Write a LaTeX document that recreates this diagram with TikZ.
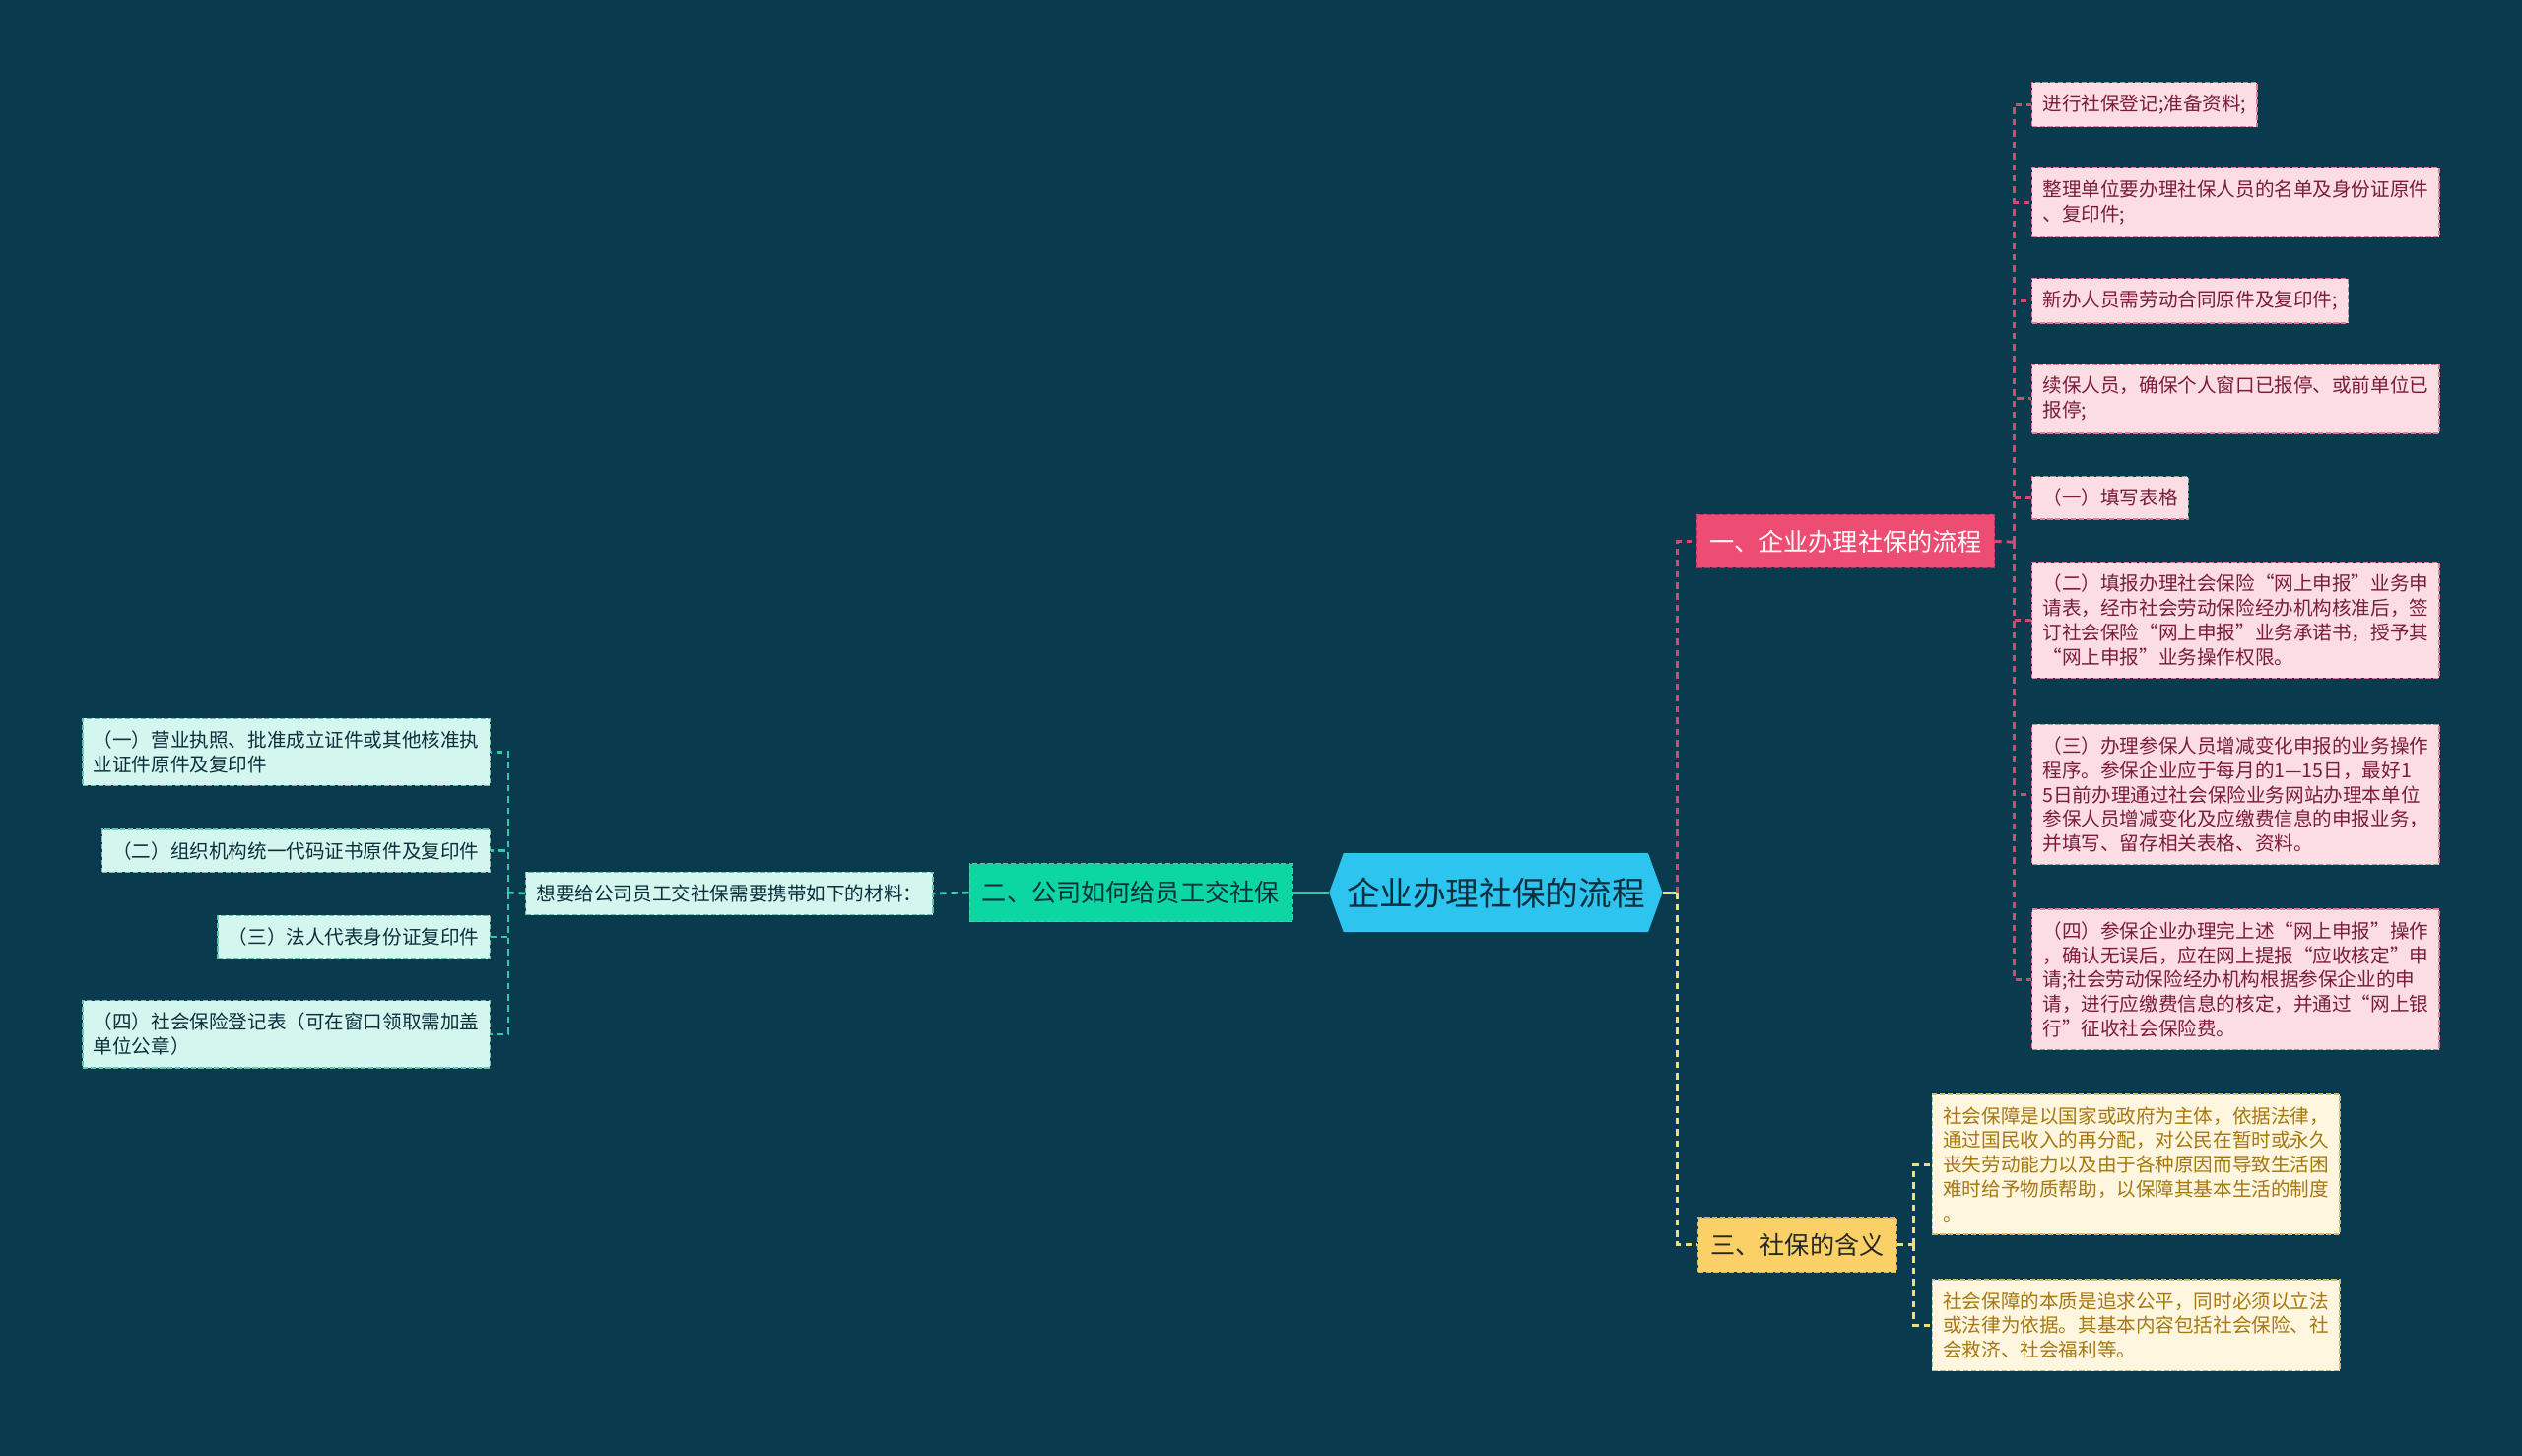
\documentclass[tikz,border=0pt]{standalone}
\usepackage{fontspec}
\newfontfamily\cjk{Noto Sans CJK SC}
\usetikzlibrary{positioning,calc,shapes.symbols}
\definecolor{bgcol}{HTML}{0A3A4D}
\definecolor{rootbg}{HTML}{2EC4F0}
\definecolor{darktx}{HTML}{0B2F3D}
\definecolor{pinkbr}{HTML}{EE4D73}
\definecolor{pinkbd}{HTML}{E07C98}
\definecolor{pinkbg}{HTML}{FCDDE4}
\definecolor{pinktx}{HTML}{7B1C3B}
\definecolor{pinkln}{HTML}{D24A74}
\definecolor{greenbr}{HTML}{0CD6A2}
\definecolor{greenbg}{HTML}{D3F6EE}
\definecolor{greenbd}{HTML}{5FC7A8}
\definecolor{greenln}{HTML}{33C9A8}
\definecolor{yelbr}{HTML}{FAD067}
\definecolor{yelbg}{HTML}{FFF6DF}
\definecolor{yelbd}{HTML}{D8B76A}
\definecolor{yeltx}{HTML}{A6780F}
\definecolor{yelln}{HTML}{F3DC7A}

\begin{document}
\begin{tikzpicture}[x=0.5pt,y=-0.5pt,font=\cjk]
\tikzstyle{leaf}=[draw,dash pattern=on 1.6pt off 0.8pt,line width=0.4pt,inner xsep=3.3pt,inner ysep=3.8pt,align=left,font=\cjk\fontsize{6}{7.6}\selectfont]
  \tikzstyle{pleaf}=[leaf,fill=pinkbg,draw=pinkbd,text=pinktx,anchor=west]
  \tikzstyle{gleaf}=[leaf,fill=greenbg,draw=greenbd,text=darktx,anchor=east]
  \tikzstyle{yleaf}=[leaf,fill=yelbg,draw=yelbd,text=yeltx,anchor=west]
  \tikzstyle{branch}=[draw,dash pattern=on 1.6pt off 0.8pt,line width=0.4pt,inner xsep=3.9pt,inner ysep=0pt,font=\cjk\fontsize{7.7}{9}\selectfont]
  \tikzstyle{pline}=[pinkln,line width=0.9pt,dash pattern=on 2pt off 1.5pt]
  \tikzstyle{gline}=[greenln,line width=0.8pt,dash pattern=on 2pt off 1.5pt]
  \tikzstyle{yline}=[yelln,line width=0.9pt,dash pattern=on 2pt off 1.5pt]
%
\fill[bgcol] (0,0) rectangle (1568,905);
\useasboundingbox (0,0) rectangle (1568,905);
%
\node[signal,signal to=west and east,signal pointer angle=140,fill=rootbg,text=darktx,minimum height=24.5pt,inner xsep=1pt,font=\cjk\fontsize{10.3}{12}\selectfont] (root) at (930,555) {企业办理社保的流程};
  \node[branch,fill=pinkbr,draw=pinkln!80!black,text=white,minimum height=16.5pt] (b1) at (1147.5,336.5) {一、企业办理社保的流程};
  \node[branch,fill=greenbr,draw=greenbd,text=darktx,minimum height=18pt] (b2) at (703,555) {二、公司如何给员工交社保};
  \node[branch,fill=yelbr,draw=yelbd,text=black!85,minimum height=17pt] (b3) at (1117.5,774) {三、社保的含义};
%
\node[pleaf] (p1) at (1263,65) {进行社保登记;准备资料;};
  \node[pleaf] (p2) at (1263,126) {整理单位要办理社保人员的名单及身份证原件\\、复印件;};
  \node[pleaf] (p3) at (1263,187) {新办人员需劳动合同原件及复印件;};
  \node[pleaf] (p4) at (1263,248) {续保人员，确保个人窗口已报停、或前单位已\\报停;};
  \node[pleaf] (p5) at (1263,309.5) {（一）填写表格};
  \node[pleaf] (p6) at (1263,385.5) {（二）填报办理社会保险“网上申报”业务申\\请表，经市社会劳动保险经办机构核准后，签\\订社会保险“网上申报”业务承诺书，授予其\\“网上申报”业务操作权限。};
  \node[pleaf] (p7) at (1263,494) {（三）办理参保人员增减变化申报的业务操作\\程序。参保企业应于每月的1—15日，最好1\\5日前办理通过社会保险业务网站办理本单位\\参保人员增减变化及应缴费信息的申报业务，\\并填写、留存相关表格、资料。};
  \node[pleaf] (p8) at (1263,609) {（四）参保企业办理完上述“网上申报”操作\\，确认无误后，应在网上提报“应收核定”申\\请;社会劳动保险经办机构根据参保企业的申\\请，进行应缴费信息的核定，并通过“网上银\\行”征收社会保险费。};
%
\node[yleaf] (y1) at (1201,724) {社会保障是以国家或政府为主体，依据法律，\\通过国民收入的再分配，对公民在暂时或永久\\丧失劳动能力以及由于各种原因而导致生活困\\难时给予物质帮助，以保障其基本生活的制度\\。};
  \node[yleaf] (y2) at (1201,824) {社会保障的本质是追求公平，同时必须以立法\\或法律为依据。其基本内容包括社会保险、社\\会救济、社会福利等。};
%
\node[gleaf,anchor=center] (g0) at (453.5,555.5) {想要给公司员工交社保需要携带如下的材料：};
  \node[gleaf] (g1) at (305,467.5) {（一）营业执照、批准成立证件或其他核准执\\业证件原件及复印件};
  \node[gleaf] (g2) at (305,529) {（二）组织机构统一代码证书原件及复印件};
  \node[gleaf] (g3) at (305,582.5) {（三）法人代表身份证复印件};
  \node[gleaf] (g4) at (305,643) {（四）社会保险登记表（可在窗口领取需加盖\\单位公章）};
%
\coordinate (rj) at (1043,555);
  \coordinate (pj) at (1252,337);
  \coordinate (yj) at (1190,774);
  \coordinate (gj) at (316,555);
%
\draw[yelln,line width=1pt] (root.east) -- (rj);
  \draw[pline] (rj) |- (b1.west);
  \draw[yline] (rj) |- (b3.west);
  \draw[greenln,line width=1pt] (root.west) -- (b2.east);
  \draw[gline] (b2.west) -- (g0.east);
  \draw[gline] (g0.west) -- (gj);
  \foreach \n in {1,...,4} \draw[gline] (gj) |- (g\n.east);
  \draw[pline] (b1.east) -- (pj);
  \foreach \n in {1,...,8} \draw[pline] (pj) |- (p\n.west);
  \draw[yline] (b3.east) -- (yj);
  \foreach \n in {1,2} \draw[yline] (yj) |- (y\n.west);
\end{tikzpicture}
\end{document}
